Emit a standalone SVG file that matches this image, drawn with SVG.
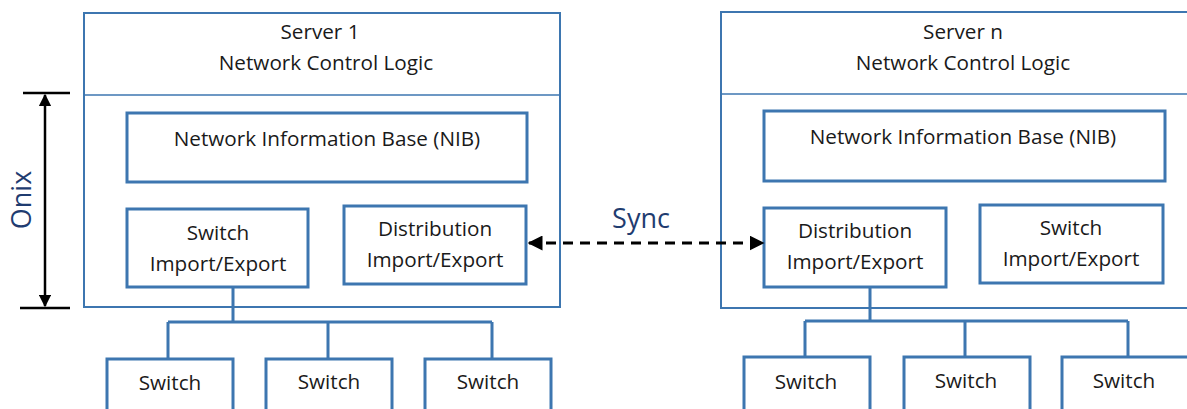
<svg xmlns="http://www.w3.org/2000/svg" width="1187" height="409" viewBox="0 0 1187 409">
  <style>
    .frame { fill: #fff; stroke: #3d76b0; stroke-width: 2; }
    .box { fill: #fff; stroke: #3d76b0; stroke-width: 3; }
    .wire { fill: none; stroke: #3d76b0; stroke-width: 3; }
    .lbl { font-family: "Open Sans", "Liberation Sans", sans-serif; font-size: 20.7px; fill: #1a1a1a; text-anchor: middle; }
    .note { font-family: "Open Sans", "Liberation Sans", sans-serif; font-size: 27px; fill: #1f3c70; text-anchor: middle; }
    .dim { stroke: #000; stroke-width: 2.5; fill: none; }
  </style>
  <defs>
    <marker id="tip" viewBox="0 0 10 10" refX="9" refY="5" markerWidth="5" markerHeight="5" orient="auto-start-reverse">
      <path d="M0,0 L10,5 L0,10 z" fill="#000"/>
    </marker>
  </defs>
  <rect width="1187" height="409" fill="#fff"/>

  <!-- Server 1 -->
  <g id="server1">
    <rect class="frame" x="84" y="13" width="476" height="294"/>
    <line x1="84" y1="95" x2="560" y2="95" stroke="#3d76b0" stroke-width="1.5"/>
    <text class="lbl" x="320" y="39">Server 1</text>
    <text class="lbl" x="326" y="70">Network Control Logic</text>
  </g>
  <g id="nib1">
    <rect class="box" x="127" y="113" width="400" height="69"/>
    <text class="lbl" x="327" y="146">Network Information Base (NIB)</text>
  </g>
  <g id="switchIE1">
    <rect class="box" x="127" y="209" width="181" height="78"/>
    <text class="lbl" x="218" y="240">Switch</text>
    <text class="lbl" x="218" y="271">Import/Export</text>
  </g>
  <g id="distIE1">
    <rect class="box" x="344" y="206" width="182" height="78"/>
    <text class="lbl" x="435" y="236">Distribution</text>
    <text class="lbl" x="435" y="267">Import/Export</text>
  </g>
  <g id="sw1a">
    <rect class="box" x="107" y="359" width="126" height="60"/>
    <text class="lbl" x="170" y="390">Switch</text>
  </g>
  <g id="sw1b">
    <rect class="box" x="266" y="359" width="126" height="60"/>
    <text class="lbl" x="329" y="389">Switch</text>
  </g>
  <g id="sw1c">
    <rect class="box" x="425" y="359" width="126" height="60"/>
    <text class="lbl" x="488" y="389">Switch</text>
  </g>

  <!-- Server n -->
  <g id="serverN">
    <rect class="frame" x="721" y="12" width="485" height="296"/>
    <line x1="721" y1="94" x2="1187" y2="94" stroke="#3d76b0" stroke-width="1.5"/>
    <text class="lbl" x="963" y="39">Server n</text>
    <text class="lbl" x="963" y="70">Network Control Logic</text>
  </g>
  <g id="nibN">
    <rect class="box" x="764" y="111" width="401" height="70"/>
    <text class="lbl" x="963" y="144">Network Information Base (NIB)</text>
  </g>
  <g id="distIEN">
    <rect class="box" x="764" y="208" width="182" height="79"/>
    <text class="lbl" x="855" y="238">Distribution</text>
    <text class="lbl" x="855" y="269">Import/Export</text>
  </g>
  <g id="switchIEN">
    <rect class="box" x="980" y="205" width="183" height="78"/>
    <text class="lbl" x="1071" y="235">Switch</text>
    <text class="lbl" x="1071" y="266">Import/Export</text>
  </g>
  <g id="swNa">
    <rect class="box" x="744" y="357" width="126" height="60"/>
    <text class="lbl" x="806" y="389">Switch</text>
  </g>
  <g id="swNb">
    <rect class="box" x="904" y="357" width="126" height="60"/>
    <text class="lbl" x="966" y="388">Switch</text>
  </g>
  <g id="swNc">
    <rect class="box" x="1062" y="357" width="140" height="60"/>
    <text class="lbl" x="1124" y="388">Switch</text>
  </g>

  <!-- Onix extent -->
  <g id="onix">
    <line class="dim" x1="23" y1="93" x2="70" y2="93"/>
    <line class="dim" x1="20" y1="308" x2="70" y2="308"/>
    <line class="dim" x1="45" y1="95" x2="45" y2="306" marker-start="url(#tip)" marker-end="url(#tip)"/>
    <text class="note" transform="translate(31,200) rotate(-90)">Onix</text>
  </g>

  <!-- Connectors -->
  <g id="connectors">
    <path class="wire" d="M233,287 V322 M168,322 H492 M168,322 V359 M328,322 V359 M492,322 V359"/>
    <path class="wire" d="M870,287 V321 M805,321 H1128 M805,321 V357 M965,321 V357 M1128,321 V357"/>
    <line x1="529" y1="243" x2="763" y2="243" stroke="#000" stroke-width="3" stroke-dasharray="10,7" marker-start="url(#tip)" marker-end="url(#tip)"/>
    <text class="note" x="641" y="228">Sync</text>
  </g>
</svg>
